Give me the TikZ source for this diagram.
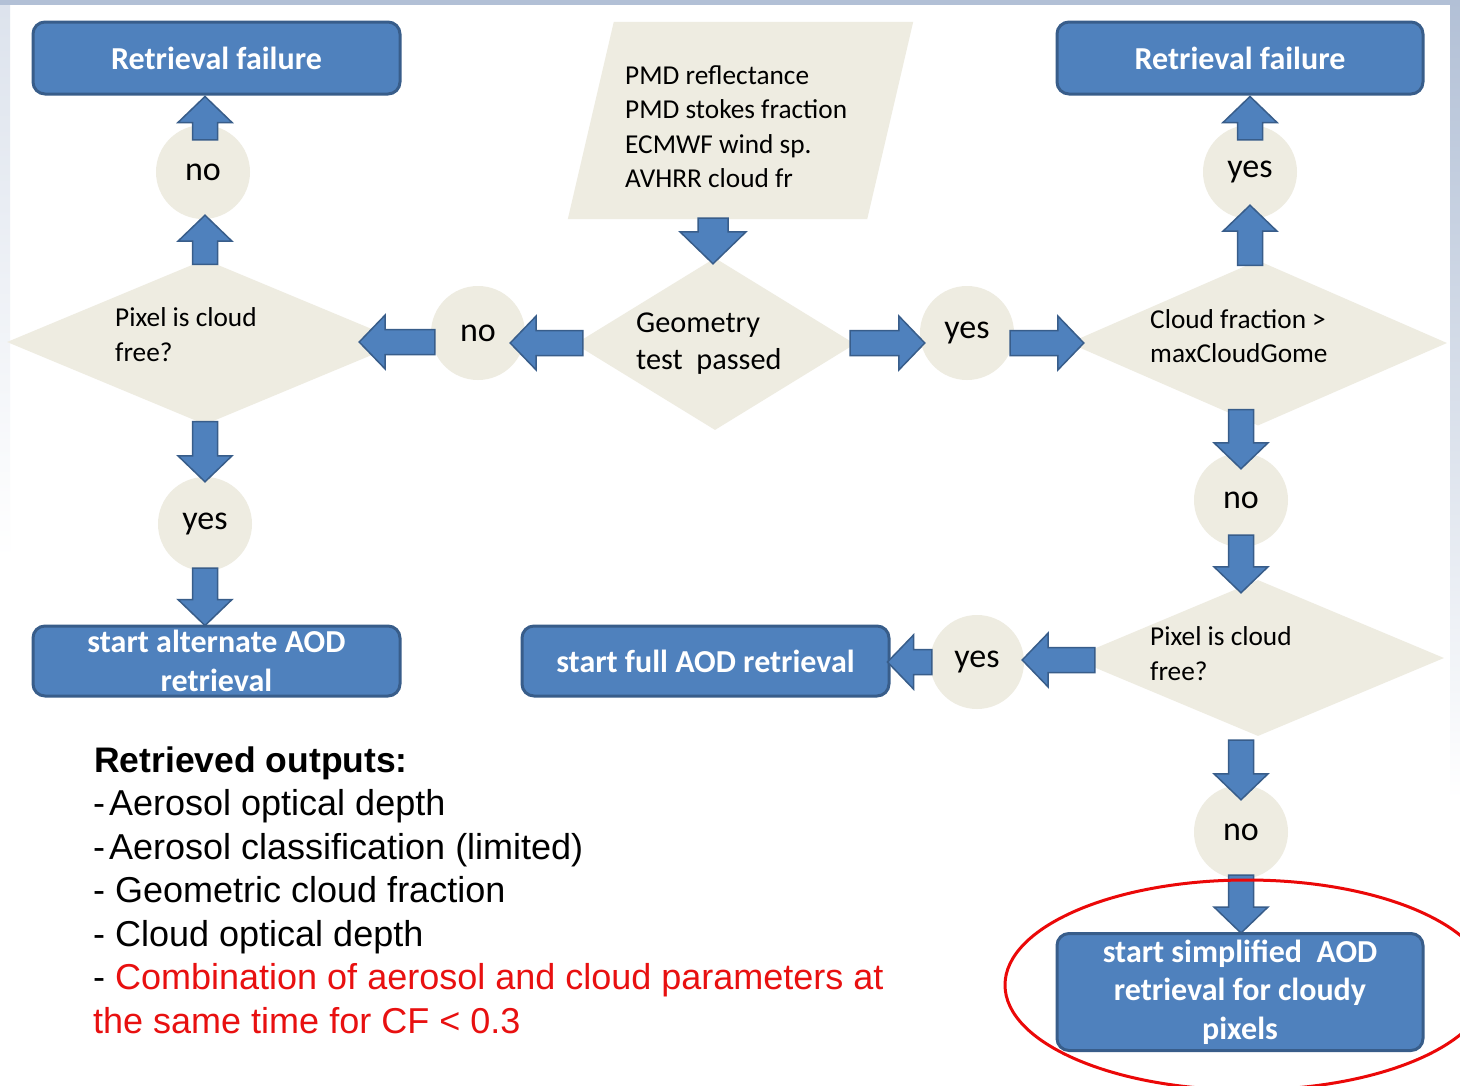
\documentclass[tikz,border=0pt]{standalone}
\usepackage{fontspec}
\setmainfont{Carlito}
\newfontfamily\arialfont{Liberation Sans}
\usetikzlibrary{shapes.geometric,calc}

\definecolor{boxblue}{RGB}{79,129,189}
\definecolor{boxedge}{RGB}{56,93,138}
\definecolor{beige}{RGB}{238,236,225}
\definecolor{outred}{RGB}{232,16,16}
\definecolor{ringred}{RGB}{235,8,8}
\definecolor{framebg}{RGB}{178,192,214}

% default block-arrow dimensions (half stem width, half head width, head length)
\def\arstem{12.5pt}
\def\arhead{27pt}
\def\arheadlen{26pt}

\tikzset{
  endbox/.style={rectangle, rounded corners=12pt, draw=boxedge, line width=3pt,
    fill=boxblue, text=white, align=center, inner sep=0pt, minimum width=367pt,
    font=\bfseries\fontsize{32}{38.5}\selectfont},
  decision/.style={diamond, fill=beige, inner sep=0pt},
  answer/.style={circle, fill=beige, minimum size=94pt, inner sep=0pt,
    font=\fontsize{34}{40}\selectfont},
  dlabel/.style={anchor=base west, inner sep=0pt, font=\fontsize{27.3}{34}\selectfont},
  glabel/.style={anchor=base west, inner sep=0pt, font=\fontsize{30.3}{38}\selectfont},
  outline/.style={anchor=base west, inner sep=0pt,
    font=\arialfont\fontsize{36}{43.5}\selectfont},
  % a filled block arrow running from the start point to the target point
  blockarrow/.style={fill=boxblue, draw=boxedge, line width=1.5pt, line join=miter,
    to path={let \p1=(\tikztostart), \p2=(\tikztotarget),
      \n1={atan2(\y2-\y1,\x2-\x1)}, \n2={veclen(\x2-\x1,\y2-\y1)} in
      [shift={(\p1)}, rotate=\n1]
      (0pt,{-\arstem}) -- ({\n2-\arheadlen},{-\arstem}) -- ({\n2-\arheadlen},{-\arhead})
      -- (\n2,0pt) -- ({\n2-\arheadlen},\arhead) -- ({\n2-\arheadlen},\arstem)
      -- (0pt,\arstem) -- cycle}},
  bigblockarrow/.style={blockarrow,
    /utils/exec={\def\arstem{15pt}\def\arhead{33pt}\def\arheadlen{32pt}}},
}

\begin{document}
\begin{tikzpicture}[x=1pt,y=-1pt]
\useasboundingbox (0,0) rectangle (1460,1085);

% page background and slide frame
\fill[white] (0,0) rectangle (1460,1085);
\shade[top color=framebg, bottom color=white] (1450,0) rectangle (1460,800);
\shade[top color=framebg!45, bottom color=white] (0,0) rectangle (10,560);
\fill[framebg] (0,0) rectangle (1460,5);

% input data block (parallelogram)
\path node[rectangle, minimum width=345pt, minimum height=197pt, inner sep=0pt] (inp) at (740.5,120.5) {};
\fill[beige] ($(inp.north west)+(46,0)$) -- (inp.north east)
  -- ($(inp.south east)+(-46,0)$) -- (inp.south west) -- cycle;
\node[dlabel] (inp1) at (625,84) {PMD reflectance};
\node[dlabel] (inp2) at (625,118.5) {PMD stokes fraction};
\node[dlabel] (inp3) at (625,153) {ECMWF wind sp.};
\node[dlabel] (inp4) at (625,187.5) {AVHRR cloud fr};

% decisions
\node[decision, minimum width=280pt, minimum height=172pt] (geo) at (715,344) {};
\node[glabel] (geo1) at (636,332) {Geometry};
\node[glabel] (geo2) at (636,369) {test\ \ passed};

\node[decision, minimum width=396pt, minimum height=165pt] (d1) at (205,342) {};
\node[dlabel] (d1a) at (115,326) {Pixel is cloud};
\node[dlabel] (d1b) at (115,361) {free?};

\node[decision, minimum width=378pt, minimum height=165pt] (d2) at (1258,343) {};
\node[dlabel] (d2a) at (1150,328) {Cloud fraction >};
\node[dlabel] (d2b) at (1150,362) {maxCloudGome};

\node[decision, minimum width=372pt, minimum height=156pt] (d3) at (1258,658) {};
\node[dlabel] (d3a) at (1150,645) {Pixel is cloud};
\node[dlabel] (d3b) at (1150,680) {free?};

% answers
\node[answer] (noT)  at (203,172) {no};
\node[answer] (noL)  at (478,333) {no};
\node[answer] (yesL) at (205,524) {yes};
\node[answer] (yesM) at (967,333) {yes};
\node[answer] (yesT) at (1250,172) {yes};
\node[answer] (noR)  at (1241,500) {no};
\node[answer] (yesB) at (977,662) {yes};
\node[answer] (noBR) at (1241,832) {no};

% outcome boxes
\node[endbox, minimum height=72pt] (failL) at (216.5,58) {Retrieval failure};
\node[endbox, minimum width=366pt, minimum height=72pt] (failR) at (1240,58) {Retrieval failure};
\node[endbox, minimum height=70pt] (altB) at (216.5,661) {start alternate AOD\\retrieval};
\node[endbox, minimum height=70pt] (fullB) at (705.5,661) {start full AOD retrieval};
\node[endbox, minimum width=366pt, minimum height=117pt] (simpB) at (1240,992)
  {start simplified\ \ AOD\\retrieval for cloudy\\pixels};

% flow arrows
\draw[bigblockarrow] ($(inp.south -| geo.north)+(-2,-1)$) to ($(geo.north)+(-2,6)$);
\draw[blockarrow] ($(geo.west)+(8,-1)$) to ($(geo.west -| noL.east)+(-15,-1)$);
\draw[blockarrow] ($(noL.west |- d1.east)+(4,0)$) to ($(d1.east)+(-44,0)$);
\draw[blockarrow] ($(d1.north)+(0,5)$) to ($(d1.north |- noT.south)+(0,-4)$);
\draw[blockarrow] ($(d1.north |- noT.north)+(0,15)$) to ($(failL.south -| d1.north)+(0,1)$);
\draw[blockarrow] ($(d1.south)+(0,-3)$) to ($(yesL.north)+(0,5)$);
\draw[blockarrow] ($(yesL.south)+(0,-3)$) to ($(altB.north -| yesL.south)+(0,1)$);
\draw[blockarrow] ($(geo.east)+(-5,-1)$) to ($(geo.east -| yesM.west)+(5,-1)$);
\draw[blockarrow] ($(yesM.east |- d2.west)+(-4,0)$) to ($(d2.west)+(15,0)$);
\draw[blockarrow] ($(d2.north -| yesT.south)+(0,5)$) to ($(yesT.south)+(0,-14)$);
\draw[blockarrow] ($(yesT.north)+(0,15)$) to ($(failR.south -| yesT.north)+(0,1)$);
\draw[blockarrow] ($(d2.south -| noR.north)+(0,-16)$) to ($(noR.north)+(0,16)$);
\draw[blockarrow] ($(noR.south)+(0,-12)$) to ($(d3.north -| noR.south)+(0,13)$);
\draw[blockarrow] ($(d3.west)+(23,2)$) to ($(d3.west -| yesB.east)+(-2,2)$);
\draw[blockarrow] ($(yesB.west)+(2,0)$) to ($(fullB.east |- yesB.west)+(-3,0)$);
\draw[blockarrow] ($(d3.south -| noBR.north)+(0,4)$) to ($(noBR.north)+(0,15)$);
\draw[blockarrow] ($(noBR.south)+(0,-4)$) to ($(simpB.north -| noBR.south)+(0,1)$);

% highlight ring round the cloudy-pixel branch
\draw[ringred, line width=3pt] (1247,985) ellipse [x radius=242, y radius=105];

% list of retrieved outputs
\node[outline, font=\arialfont\bfseries\fontsize{35.5}{43.5}\selectfont] (outhead) at (94,772) {Retrieved outputs:};
\node[outline] (out1) at (93,815.5) {-\hspace{4pt}Aerosol optical depth};
\node[outline] (out2) at (93,859) {-\hspace{4pt}Aerosol classification (limited)};
\node[outline] (out3) at (93,902.5) {- Geometric cloud fraction};
\node[outline] (out4) at (93,946) {- Cloud optical depth};
\node[outline] (out5) at (93,989.5) {- \textcolor{outred}{Combination of aerosol and cloud parameters at}};
\node[outline, text=outred] (out6) at (93,1033) {the same time for CF < 0.3};
\end{tikzpicture}
\end{document}
